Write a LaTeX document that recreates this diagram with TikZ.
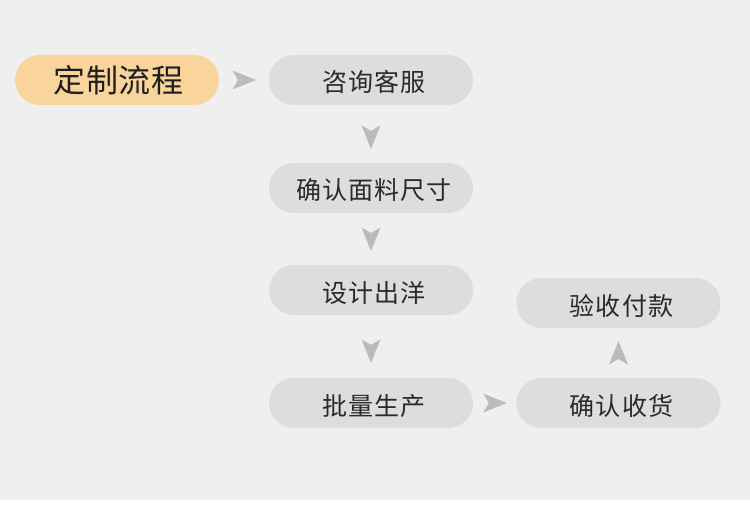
\documentclass[tikz,border=0pt]{standalone}
\usepackage{fontspec}
\newfontfamily\cjkboxfont[LetterSpace=4.5]{Noto Sans CJK SC}
\newfontfamily\cjkstartfont[LetterSpace=2.5]{Noto Sans CJK SC}
\definecolor{bggray}{HTML}{EFEFEF}
\definecolor{boxgray}{HTML}{DDDDDD}
\definecolor{boxorange}{HTML}{F9D59B}
\definecolor{tipgray}{HTML}{BBBBBB}
\definecolor{txtdark}{HTML}{2A2A2A}
\tikzset{
  stepbox/.style={rectangle, rounded corners=25pt, minimum width=204pt, minimum height=50pt,
    inner sep=0pt, fill=boxgray, text=txtdark, text height=27pt, text depth=3pt,
    execute at begin node={\kern6pt},
    font=\cjkboxfont\fontsize{25}{25}\selectfont},
  startbox/.style={stepbox, fill=boxorange, text=black!88, text height=30pt, text depth=4pt,
    execute at begin node={\kern-3pt},
    font=\cjkstartfont\fontsize{32}{32}\selectfont},
  pics/tipshape/.style={code={\fill[tipgray] (12pt,0pt) -- (-11.5pt,9.5pt) -- (-6pt,0pt) -- (-11.5pt,-9.5pt) -- cycle;}}
}
\begin{document}
\begin{tikzpicture}[x=1pt,y=-1pt]
\useasboundingbox (0,0) rectangle (750,516);
\fill[white] (0,0) rectangle (750,516);
\fill[bggray] (0,0) rectangle (750,500);
\node[startbox] (start) at (117,80) {定制流程};
\node[stepbox] (consult) at (371,80) {咨询客服};
\node[stepbox] (fabric) at (371,188) {确认面料尺寸};
\node[stepbox] (design) at (371,290) {设计出洋};
\node[stepbox] (produce) at (371,403) {批量生产};
\node[stepbox] (receive) at (618.5,403) {确认收货};
\node[stepbox] (pay) at (618.5,303) {验收付款};
\path (start.east) -- (consult.west) pic[pos=0.5]{tipshape};
\path (consult.south) -- (fabric.north) pic[pos=0.55, rotate=-90]{tipshape};
\path (fabric.south) -- (design.north) pic[pos=0.5, rotate=-90]{tipshape};
\path (design.south) -- (produce.north) pic[pos=0.57, rotate=-90]{tipshape};
\path (produce.east) -- (receive.west) pic[pos=0.5]{tipshape};
\path (receive.north) -- (pay.south) pic[pos=0.5, rotate=90]{tipshape};
\end{tikzpicture}
\end{document}
